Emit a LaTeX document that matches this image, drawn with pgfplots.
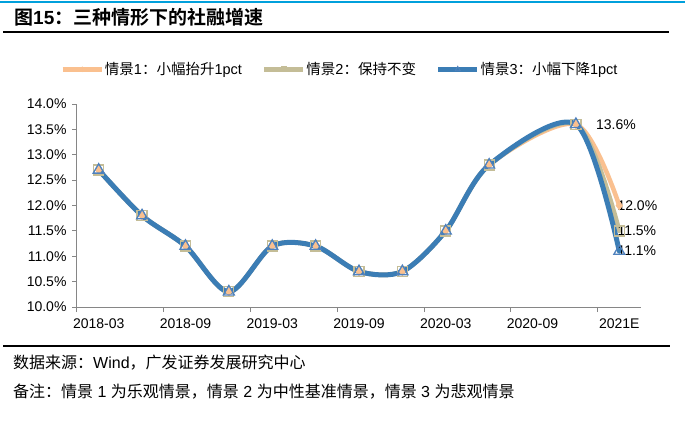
\documentclass[border=0pt]{standalone}
\usepackage{pgfplots}
\pgfplotsset{compat=1.18}
\usepackage{fontspec}
\setmainfont{Liberation Sans}
\newfontfamily\cjk{Noto Sans CJK SC}
\newfontfamily\cjkbold{Noto Sans CJK SC Bold}

\definecolor{qjone}{HTML}{FAC08F}
\definecolor{qjtwo}{HTML}{C4BD97}
\definecolor{qjthree}{HTML}{3B7DB5}
\definecolor{trimark}{HTML}{4F81BD}
\definecolor{axisgray}{HTML}{868686}
\definecolor{topblue}{HTML}{00A0DC}

\begin{document}
\begin{tikzpicture}[x=1pt,y=1pt]
\path[use as bounding box, fill=white] (0,0) rectangle (685,421);
% header
\draw[topblue, line width=2pt] (0,418.5) -- (685,418.5);
\node[anchor=west, inner sep=0pt] at (14,404)
  {\fontsize{19}{21}\selectfont{\cjkbold 图}{\bfseries 15}{\cjkbold ：三种情形下的社融增速}};
\draw[black, line width=1.3pt] (3,389) -- (669,389);
% footer
\draw[black, line width=1.3pt] (3,75) -- (670,75);
\node[anchor=west, inner sep=0pt] at (13,58)
  {\fontsize{16}{18}\selectfont{\cjk 数据来源：}Wind{\cjk ，广发证券发展研究中心}};
\node[anchor=west, inner sep=0pt] at (13,29)
  {\fontsize{16}{18}\selectfont{\cjk 备注：情景} 1 {\cjk 为乐观情景，情景} 2 {\cjk 为中性基准情景，情景} 3 {\cjk 为悲观情景}};

\begin{axis}[
    at={(77pt,114pt)}, anchor=south west,
    scale only axis, width=564pt, height=203pt,
    xmin=-0.5, xmax=12.5, ymin=10, ymax=14,
    clip=false,
    axis x line*=bottom, axis y line*=left,
    axis line style={draw=axisgray, line width=1pt},
    tick align=outside,
    xtick={-0.5,1.5,...,11.5}, xticklabels={},
    extra x ticks={0,2,...,12},
    extra x tick labels={2018-03,2018-09,2019-03,2019-09,2020-03,2020-09,2021E},
    extra x tick style={major tick length=0pt},
    xticklabel style={yshift=-8pt},
    ytick={10,10.5,...,14},
    yticklabel={\pgfmathprintnumber[fixed,fixed zerofill,precision=1]{\tick}\%},
    /pgf/number format/assume math mode=true,
    major tick length=5pt,
    tick style={draw=axisgray, line width=1pt},
    tick label style={font=\fontsize{14}{16}\selectfont, black},
    yticklabel style={xshift=-2pt},
    legend image code/.code={\draw[mark repeat=2,mark phase=2,#1]
        plot coordinates {(0pt,0pt) (19.5pt,0pt) (39pt,0pt)};},
    legend style={at={(0.4654,1.171)}, anchor=center, draw=none, fill=none,
        legend columns=3, font=\fontsize{14.5}{17}\selectfont,
        nodes={inner sep=1pt},
        /tikz/every even column/.append style={column sep=19pt}},
    legend cell align=left,
]
\addlegendimage{qjone, line width=4.5pt, mark=diamond*, mark size=2.5pt, mark options={line width=0.5pt}}
\addlegendentry{{\cjk 情景}1{\cjk ：小幅抬升}1pct}
\addlegendimage{qjtwo, line width=4.5pt, mark=square, mark size=2.5pt, mark options={line width=0.8pt}}
\addlegendentry{{\cjk 情景}2{\cjk ：保持不变}}
\addlegendimage{qjthree, line width=4.5pt, mark=triangle, mark size=3pt, mark options={line width=0.8pt, draw=trimark}}
\addlegendentry{{\cjk 情景}3{\cjk ：小幅下降}1pct}

% lines
\addplot[forget plot, smooth, qjone, line width=4.5pt, line cap=round, line join=round] coordinates {
  (0,12.7) (1,11.8) (2,11.2) (3,10.3) (4,11.2) (5,11.2) (6,10.7) (7,10.7)
  (8,11.5) (9,12.8) (11,13.6) (12,12.0)};
\addplot[forget plot, smooth, qjtwo, line width=4.5pt, line cap=round, line join=round] coordinates {
  (0,12.7) (1,11.8) (2,11.2) (3,10.3) (4,11.2) (5,11.2) (6,10.7) (7,10.7)
  (8,11.5) (9,12.8) (11,13.6) (12,11.5)};
\addplot[forget plot, smooth, qjthree, line width=5pt, line cap=round, line join=round] coordinates {
  (0,12.7) (1,11.8) (2,11.2) (3,10.3) (4,11.2) (5,11.2) (6,10.7) (7,10.7)
  (8,11.5) (9,12.8) (11,13.6) (12,11.1)};

% markers
\addplot[forget plot, only marks, mark=diamond*, mark size=4.5pt, qjone] coordinates {
  (0,12.7) (1,11.8) (2,11.2) (3,10.3) (4,11.2) (5,11.2) (6,10.7) (7,10.7)
  (8,11.5) (9,12.8) (11,13.6) (12,12.0)};
\addplot[forget plot, only marks, mark=square, mark size=5pt, qjtwo, mark options={line width=1.3pt}] coordinates {
  (0,12.7) (1,11.8) (2,11.2) (3,10.3) (4,11.2) (5,11.2) (6,10.7) (7,10.7)
  (8,11.5) (9,12.8) (11,13.6) (12,11.5)};
\addplot[forget plot, only marks, mark=triangle, mark size=6.3pt, trimark, mark options={line width=1.3pt}] coordinates {
  (0,12.7) (1,11.8) (2,11.2) (3,10.3) (4,11.2) (5,11.2) (6,10.7) (7,10.7)
  (8,11.5) (9,12.8) (11,13.6) (12,11.1)};

% data labels
\node[anchor=west, inner sep=0pt, font=\fontsize{14}{16}\selectfont] at (axis cs:11,13.6) [xshift=20pt] {13.6\%};
\node[anchor=west, inner sep=0pt, font=\fontsize{14}{16}\selectfont] at (axis cs:12,12.0) [xshift=-2pt] {12.0\%};
\node[anchor=west, inner sep=0pt, font=\fontsize{14}{16}\selectfont] at (axis cs:12,11.5) [xshift=-2pt] {11.5\%};
\node[anchor=west, inner sep=0pt, font=\fontsize{14}{16}\selectfont] at (axis cs:12,11.1) [xshift=-2pt] {11.1\%};
\end{axis}
\end{tikzpicture}
\end{document}
